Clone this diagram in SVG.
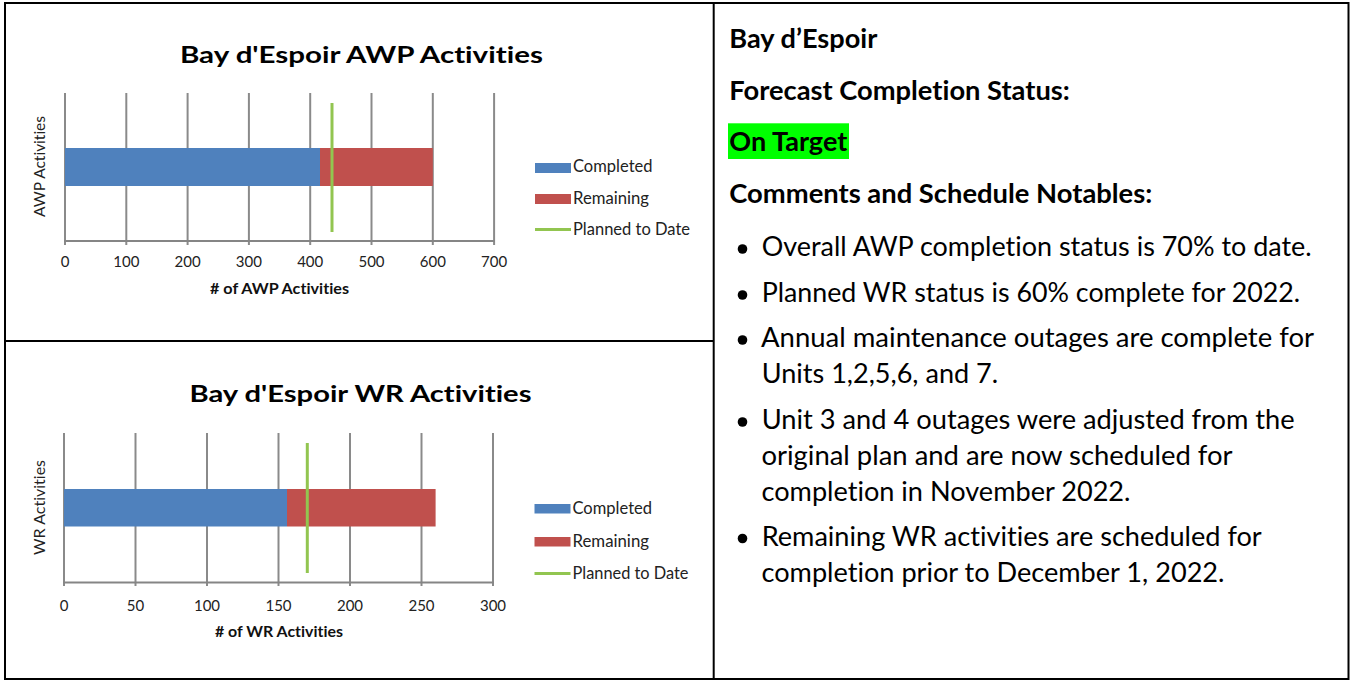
<svg xmlns="http://www.w3.org/2000/svg" width="1351" height="681" viewBox="0 0 1351 681">
<style>
text{font-variant-ligatures:none;font-feature-settings:"liga" 0,"dlig" 0}
.frame{fill:none;stroke:#000;stroke-width:2}
.grid{stroke:#8a8a8a;stroke-width:2}
.axis{stroke:#858585;stroke-width:2}
.blue{fill:#4f81bd}
.red{fill:#c0504d}
.plan{stroke:#92c550;stroke-width:3}
.ctitle{font-family:Lato,"Liberation Sans",sans-serif;font-weight:bold;font-size:23.5px;fill:#000;text-anchor:middle}
.tick{font-family:Lato,"Liberation Sans",sans-serif;font-size:15px;fill:#222;text-anchor:middle}
.leg{font-family:Lato,"Liberation Sans",sans-serif;font-size:16.5px;fill:#222}
.atitle{font-family:Lato,"Liberation Sans",sans-serif;font-weight:bold;font-size:15.5px;fill:#111;text-anchor:middle}
.ytitle{font-family:Lato,"Liberation Sans",sans-serif;font-size:16px;fill:#222;text-anchor:middle}
.h{font-family:Lato,"Liberation Sans",sans-serif;font-weight:bold;font-size:26px;fill:#000}
.b{font-family:Lato,"Liberation Sans",sans-serif;font-size:26px;fill:#000}
</style>

<g id="table">
<rect class="frame" x="5" y="3" width="1343.5" height="676"/>
<line class="frame" x1="713.7" y1="3" x2="713.7" y2="679"/>
<line class="frame" x1="5" y1="341" x2="713.7" y2="341"/>
</g>

<g id="chart-awp">
<text class="ctitle" x="361.4" y="63" textLength="363" lengthAdjust="spacingAndGlyphs">Bay d'Espoir AWP Activities</text>
<g>
<line class="grid" x1="65" y1="93" x2="65" y2="245"/>
<line class="grid" x1="126.3" y1="93" x2="126.3" y2="245"/>
<line class="grid" x1="187.6" y1="93" x2="187.6" y2="245"/>
<line class="grid" x1="248.9" y1="93" x2="248.9" y2="245"/>
<line class="grid" x1="310.2" y1="93" x2="310.2" y2="245"/>
<line class="grid" x1="371.5" y1="93" x2="371.5" y2="245"/>
<line class="grid" x1="432.8" y1="93" x2="432.8" y2="245"/>
<line class="grid" x1="494.1" y1="93" x2="494.1" y2="245"/>
<line class="axis" x1="64" y1="241" x2="495" y2="241"/>
</g>
<rect class="blue" x="65" y="148" width="255" height="38"/>
<rect class="red" x="320" y="148" width="112.8" height="38"/>
<line class="plan" x1="332" y1="103" x2="332" y2="232"/>
<g>
<text class="tick" x="65" y="267">0</text>
<text class="tick" x="126.3" y="267">100</text>
<text class="tick" x="187.6" y="267">200</text>
<text class="tick" x="248.9" y="267">300</text>
<text class="tick" x="310.2" y="267">400</text>
<text class="tick" x="371.5" y="267">500</text>
<text class="tick" x="432.8" y="267">600</text>
<text class="tick" x="494.1" y="267">700</text>
</g>
<text class="atitle" x="279.5" y="294" textLength="139" lengthAdjust="spacingAndGlyphs"># of AWP Activities</text>
<text class="ytitle" transform="translate(45,166.5) rotate(-90)" x="0" y="0" textLength="101" lengthAdjust="spacingAndGlyphs">AWP Activities</text>
<g id="legend-awp">
<rect class="blue" x="535" y="163" width="36" height="10"/>
<text class="leg" x="573" y="172" textLength="79.5" lengthAdjust="spacingAndGlyphs">Completed</text>
<rect class="red" x="535" y="194" width="36" height="10"/>
<text class="leg" x="573" y="203.5" textLength="76" lengthAdjust="spacingAndGlyphs">Remaining</text>
<line class="plan" x1="535" y1="229.5" x2="571" y2="229.5"/>
<text class="leg" x="573" y="235" textLength="117" lengthAdjust="spacingAndGlyphs">Planned to Date</text>
</g>
</g>

<g id="chart-wr">
<text class="ctitle" x="360.5" y="402" textLength="342" lengthAdjust="spacingAndGlyphs">Bay d'Espoir WR Activities</text>
<g>
<line class="grid" x1="64" y1="433" x2="64" y2="586"/>
<line class="grid" x1="135.5" y1="433" x2="135.5" y2="586"/>
<line class="grid" x1="207" y1="433" x2="207" y2="586"/>
<line class="grid" x1="278.5" y1="433" x2="278.5" y2="586"/>
<line class="grid" x1="350" y1="433" x2="350" y2="586"/>
<line class="grid" x1="421.5" y1="433" x2="421.5" y2="586"/>
<line class="grid" x1="493" y1="433" x2="493" y2="586"/>
<line class="axis" x1="63" y1="582.5" x2="494" y2="582.5"/>
</g>
<rect class="blue" x="64" y="489" width="223" height="37.5"/>
<rect class="red" x="287" y="489" width="148.6" height="37.5"/>
<line class="plan" x1="307.3" y1="443" x2="307.3" y2="573"/>
<g>
<text class="tick" x="64" y="610.5">0</text>
<text class="tick" x="135.5" y="610.5">50</text>
<text class="tick" x="207" y="610.5">100</text>
<text class="tick" x="278.5" y="610.5">150</text>
<text class="tick" x="350" y="610.5">200</text>
<text class="tick" x="421.5" y="610.5">250</text>
<text class="tick" x="493" y="610.5">300</text>
</g>
<text class="atitle" x="279" y="637" textLength="128" lengthAdjust="spacingAndGlyphs"># of WR Activities</text>
<text class="ytitle" transform="translate(45,507.5) rotate(-90)" x="0" y="0" textLength="95" lengthAdjust="spacingAndGlyphs">WR Activities</text>
<g id="legend-wr">
<rect class="blue" x="534.5" y="504" width="36" height="9.5"/>
<text class="leg" x="572.5" y="513.8" textLength="79.5" lengthAdjust="spacingAndGlyphs">Completed</text>
<rect class="red" x="534.5" y="537" width="36" height="9.5"/>
<text class="leg" x="572.5" y="546.5" textLength="76.5" lengthAdjust="spacingAndGlyphs">Remaining</text>
<line class="plan" x1="534.5" y1="573.5" x2="570.5" y2="573.5"/>
<text class="leg" x="572.5" y="578.6" textLength="116" lengthAdjust="spacingAndGlyphs">Planned to Date</text>
</g>
</g>

<g id="status">
<text class="h" x="729.3" y="47.5" textLength="148" lengthAdjust="spacingAndGlyphs">Bay d’Espoir</text>
<text class="h" x="729.3" y="99.5" textLength="340.5" lengthAdjust="spacingAndGlyphs">Forecast Completion Status:</text>
<rect x="728" y="123.3" width="121" height="35.7" fill="#00ff00"/>
<text class="h" x="729.3" y="150.5" textLength="118" lengthAdjust="spacingAndGlyphs">On Target</text>
<text class="h" x="729.3" y="202.5" textLength="423" lengthAdjust="spacingAndGlyphs">Comments and Schedule Notables:</text>
</g>

<g id="notes">
<circle cx="742.5" cy="249" r="4.8"/>
<text class="b" x="761.7" y="256" textLength="550" lengthAdjust="spacingAndGlyphs">Overall AWP completion status is 70% to date.</text>
<circle cx="742.5" cy="295" r="4.8"/>
<text class="b" x="761.7" y="302" textLength="538.5" lengthAdjust="spacingAndGlyphs">Planned WR status is 60% complete for 2022.</text>
<circle cx="742.5" cy="340" r="4.8"/>
<text class="b" x="761" y="347" textLength="553" lengthAdjust="spacingAndGlyphs">Annual maintenance outages are complete for</text>
<text class="b" x="761.7" y="383" textLength="236.5" lengthAdjust="spacingAndGlyphs">Units 1,2,5,6, and 7.</text>
<circle cx="742.5" cy="422" r="4.8"/>
<text class="b" x="761.7" y="429" textLength="533" lengthAdjust="spacingAndGlyphs">Unit 3 and 4 outages were adjusted from the</text>
<text class="b" x="761.5" y="465" textLength="471" lengthAdjust="spacingAndGlyphs">original plan and are now scheduled for</text>
<text class="b" x="761.5" y="500.5" textLength="369" lengthAdjust="spacingAndGlyphs">completion in November 2022.</text>
<circle cx="742.5" cy="538.5" r="4.8"/>
<text class="b" x="761.7" y="545.5" textLength="500" lengthAdjust="spacingAndGlyphs">Remaining WR activities are scheduled for</text>
<text class="b" x="761.5" y="581.5" textLength="463" lengthAdjust="spacingAndGlyphs">completion prior to December 1, 2022.</text>
</g>
</svg>
